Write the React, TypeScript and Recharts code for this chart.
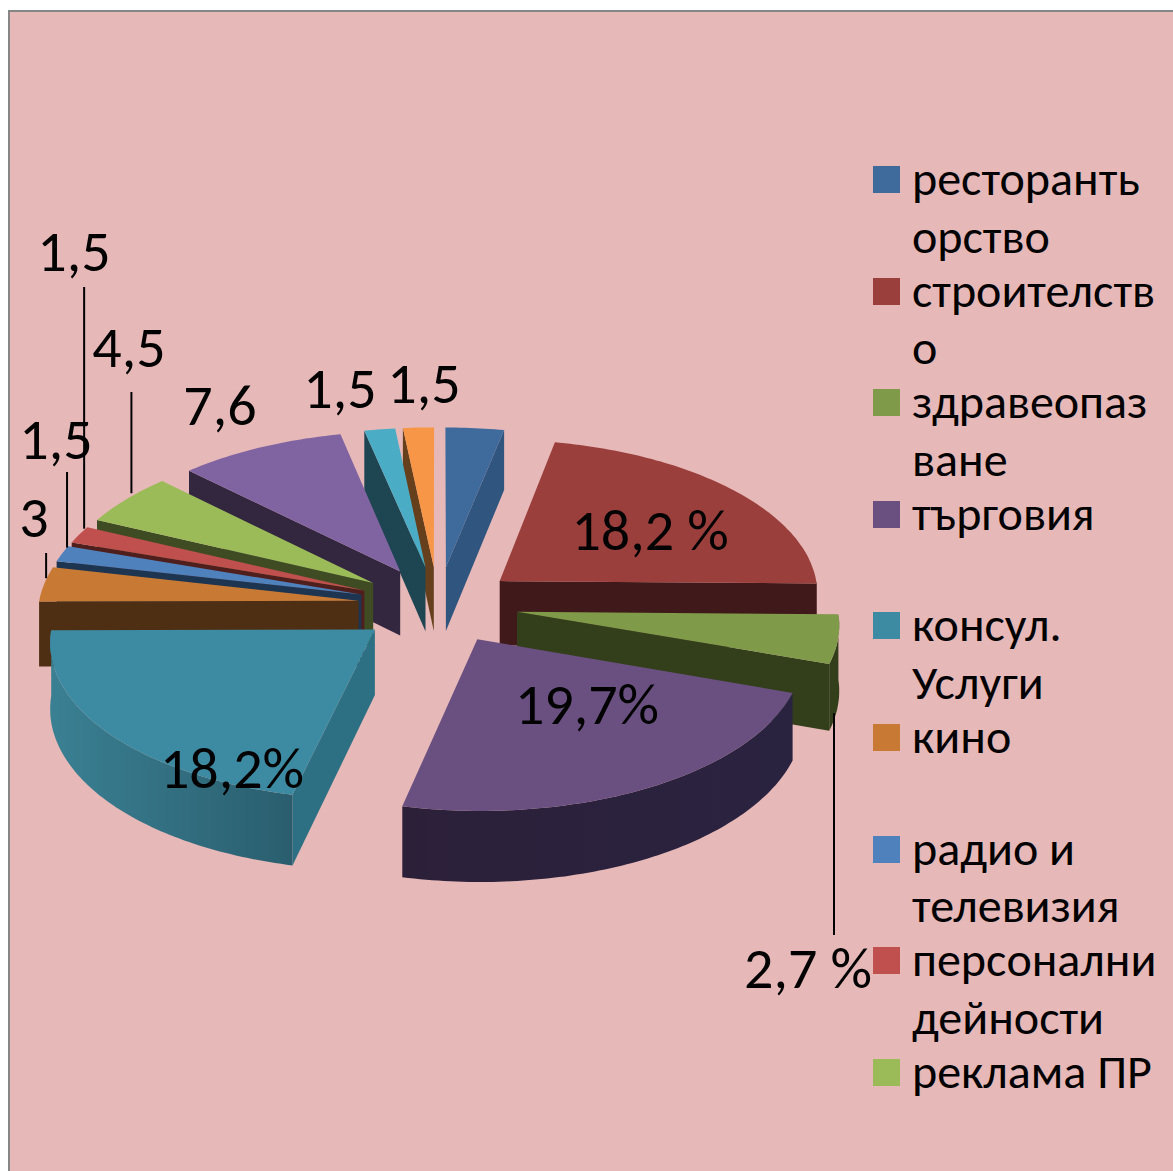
import React from "react";
import { PieChart, Pie, Legend } from "recharts";

// ---- data (slice sizes as drawn; the printed labels differ slightly)
const sliceIds = ["restaurants", "construction", "health", "trade", "consulting", "cinema", "radio", "personal", "advertising", "s10", "s11", "s12"];
const sliceValues = [2.65, 18.3, 4.2, 19.3, 17.7, 3, 1.4, 1.5, 4.5, 7.6, 1.4, 1.4];
const sliceLabels = ["", "18,2 %", "2,7 %", "19,7%", "18,2%", "3", "1,5", "1,5", "4,5", "7,6", "1,5", "1,5"];
const legendLines = [
  ["ресторанть", "орство"],
  ["строителств", "о"],
  ["здравеопаз", "ване"],
  ["търговия"],
  ["консул.", "Услуги"],
  ["кино"],
  ["радио и", "телевизия"],
  ["персонални", "дейности"],
  ["реклама ПР"],
];

// ---- styles
const topColors = ["#3F6A9C", "#9B3F3D", "#7F9A48", "#6A5080", "#3C8BA2", "#C87A35", "#4F81BD", "#C0504D", "#9BBB59", "#8064A2", "#4BACC6", "#F79646"];
const wallColors = ["#30557F", "#40191A", "#333E1B", "#2A2038", "#2E7083", "#4F2F14", "#1D3551", "#4F1F1E", "#3F4C23", "#33263F", "#1E4552", "#66401C"];
const rimFrom = ["#30557F", "#40191A", "#333E1B", "#2C2039", "#3A8093", "#4F2F14", "#1D3551", "#4F1F1E", "#3F4C23", "#33263F", "#1E4552", "#66401C"];
const rimTo = ["#30557F", "#40191A", "#333E1B", "#2A2340", "#2A5E6E", "#4F2F14", "#1D3551", "#4F1F1E", "#3F4C23", "#33263F", "#1E4552", "#66401C"];
const drawOrder = [11, 10, 0, 9, 8, 7, 6, 5, 1, 2, 3, 4];
const labelX = [0, 650, 808, 587, 232, 34, 56, 74, 129, 220, 340, 424];
const labelY = [0, 530, 968, 704, 768, 517, 439, 251, 347, 405, 388, 383];
const leaderEnd: (number | null)[] = [null, null, 935, null, null, 553, 472, 287, 392, null, null, null];
const leaderDx = [0, 0, -4, 0, 0, 2, 5, 5, 5, 0, 0, 0];

const EXPLODE = 0.25; // share of the radius
const TILT = 0.483;
const PERSPECTIVE = 0.07; // per radius
const DEPTH = 65;
const FONT = "Carlito, Lato, 'Open Sans', sans-serif";

const rows = sliceIds.map((id, i) => ({ id, idx: i, value: sliceValues[i], label: sliceLabels[i] }));

type Pt = [number, number];

function makeProjector(cx: number, cy: number, R: number) {
  return (X: number, Y: number, z = 0): Pt => {
    const f = 1 / (1 - (PERSPECTIVE * Y) / R);
    return [cx + X * f, cy + Y * TILT * f + z * f];
  };
}
const rad = (d: number) => (d * Math.PI) / 180;
const toPath = (pts: Pt[]) => "M" + pts.map((p) => `${p[0].toFixed(1)},${p[1].toFixed(1)}`).join("L") + "Z";

function clockAngles(props: any): [number, number] {
  // library angles are counter-clockwise from 3 o'clock; convert to clockwise from 12
  const a = 90 - props.startAngle;
  const b = 90 - props.endAngle;
  return a < b ? [a, b] : [b, a];
}

function apexOf(a0: number, a1: number, R: number): Pt {
  const mid = rad((a0 + a1) / 2);
  const e = EXPLODE * R;
  return [Math.sin(mid) * e, -Math.cos(mid) * e];
}

function Wedge({ props, idx }: { props: any; idx: number }) {
  const { cx, cy, outerRadius: R } = props;
  const [a0, a1] = clockAngles(props);
  const project = makeProjector(cx, cy, R);
  const [ax, ay] = apexOf(a0, a1, R);
  const world = (deg: number): Pt => [ax + Math.sin(rad(deg)) * R, ay - Math.cos(rad(deg)) * R];
  const arc = (from: number, to: number, z = 0) => {
    const pts: Pt[] = [];
    const n = Math.max(2, Math.ceil(Math.abs(to - from)));
    for (let i = 0; i <= n; i++) {
      const w = world(from + ((to - from) * i) / n);
      pts.push(project(w[0], w[1], z));
    }
    return pts;
  };
  const wall = (deg: number) => {
    const w = world(deg);
    return toPath([project(ax, ay), project(w[0], w[1]), project(w[0], w[1], DEPTH), project(ax, ay, DEPTH)]);
  };
  const norm0 = ((a0 % 360) + 360) % 360;
  const norm1 = norm0 + (a1 - a0);
  const showStart = Math.sin(rad(norm0)) < 0;
  const showEnd = Math.sin(rad(norm1)) > 0;
  const r0 = Math.max(norm0, 90);
  const r1 = Math.min(norm1, 270);
  const gid = `rim-${idx}`;
  return (
    <g>
      <defs>
        <linearGradient id={gid} x1="0" x2="1" y1="0" y2="0">
          <stop offset="0" stopColor={rimFrom[idx]} />
          <stop offset="1" stopColor={rimTo[idx]} />
        </linearGradient>
      </defs>
      {showStart && <path d={wall(norm0)} fill={wallColors[idx]} />}
      {showEnd && <path d={wall(norm1)} fill={wallColors[idx]} />}
      {r1 > r0 && <path d={toPath([...arc(r0, r1), ...arc(r1, r0, DEPTH)])} fill={`url(#${gid})`} />}
      <path d={toPath([project(ax, ay), ...arc(norm0, norm1)])} fill={topColors[idx]} />
    </g>
  );
}

function SliceLabel(props: any) {
  const idx = props.idx ?? props.payload?.idx ?? props.index;
  const text = sliceLabels[idx];
  if (!text) return null;
  const { cx, cy, outerRadius: R, midAngle } = props;
  const mid = 90 - midAngle;
  const project = makeProjector(cx, cy, R);
  const e = EXPLODE * R;
  const wx = Math.sin(rad(mid)) * (e + R);
  const wy = -Math.cos(rad(mid)) * (e + R);
  const front = Math.cos(rad(mid)) < 0;
  const edge = project(wx, wy, front ? DEPTH : 0);
  const end = leaderEnd[idx];
  const lx = edge[0] + leaderDx[idx];
  return (
    <g>
      {end !== null && <line x1={lx} x2={lx} y1={edge[1] + (front ? 8 : -6)} y2={end} stroke="#000" strokeWidth={2} />}
      <text x={labelX[idx]} y={labelY[idx]} textAnchor="middle" dominantBaseline="central" fontFamily={FONT} fontSize={58} fill="#000">
        {text}
      </text>
    </g>
  );
}

function LegendBlock() {
  return (
    <div style={{ fontFamily: FONT, fontSize: 48, color: "#000", lineHeight: "57.5px" }}>
      {legendLines.map((lines, i) => (
        <div key={i} style={{ position: "relative", height: 111.6, paddingLeft: 39 }}>
          <div style={{ position: "absolute", left: 0, top: 16, width: 27, height: 27, background: topColors[i] }} />
          {lines.map((l) => (
            <div key={l} style={{ whiteSpace: "nowrap" }}>{l}</div>
          ))}
        </div>
      ))}
    </div>
  );
}

export default function App() {
  return (
    <div style={{ position: "absolute", left: 0, top: 0, width: 1173, height: 1171, overflow: "hidden", background: "#fff" }}>
      <div style={{ position: "absolute", left: 8, top: 10, right: 0, bottom: 0, background: "#E6B8B7", borderLeft: "2px solid #868686", borderTop: "2px solid #868686" }} />
      <div style={{ position: "absolute", left: 0, top: 0 }}>
        <PieChart width={1173} height={1171} margin={{ top: 0, right: 0, bottom: 0, left: 0 }}>
          <Legend
            layout="vertical"
            verticalAlign="middle"
            align="right"
            content={() => <LegendBlock />}
            wrapperStyle={{ left: 873, right: "auto", top: 150, width: 300 }}
          />
          {drawOrder.map((i) => (
            <Pie
              key={i}
              data={rows}
              dataKey="value"
              cx={438}
              cy={605}
              outerRadius={320}
              startAngle={90}
              endAngle={-270}
              stroke="none"
              isAnimationActive={false}
              legendType="none"
              shape={(p: any) => {
                const idx = p.idx ?? p.payload?.idx;
                return idx === i ? <Wedge props={p} idx={i} /> : <g />;
              }}
            />
          ))}
          <Pie
            data={rows}
            dataKey="value"
            cx={438}
            cy={605}
            outerRadius={320}
            startAngle={90}
            endAngle={-270}
            stroke="none"
            isAnimationActive={false}
            legendType="none"
            shape={() => <g />}
            label={(p: any) => <SliceLabel {...p} />}
            labelLine={false}
          />
        </PieChart>
      </div>
    </div>
  );
}
